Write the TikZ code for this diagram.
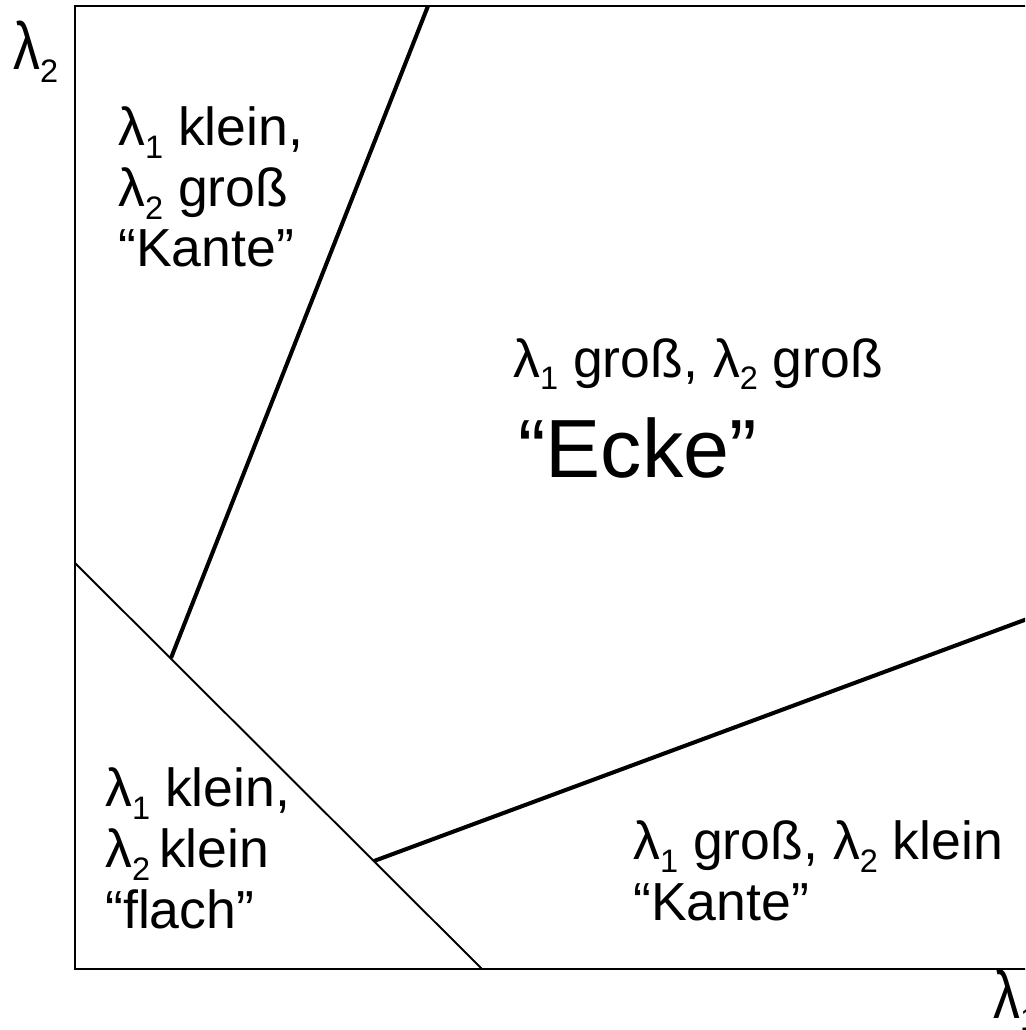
\documentclass[tikz,border=0pt]{standalone}
\usepackage{fontspec}
\setmainfont{Liberation Sans}
\newcommand\lam[1]{λ\raisebox{-0.24em}{\fontsize{18.5}{19}\selectfont #1}}
\begin{document}
\begin{tikzpicture}[x=0.02cm,y=-0.02cm,
  region/.style={anchor=base west, inner sep=0pt, align=left,
    font=\fontsize{30.5}{34.5}\selectfont},
  bigword/.style={anchor=base west, inner sep=0pt,
    font=\fontsize{47}{56}\selectfont},
  border/.style={thin line, line width=2.3pt},
  thin line/.style={line width=1.1pt}]

  \useasboundingbox (0,0) rectangle (1025,1030);
  \clip (0,0) rectangle (1025,1030);

  % frame of the eigenvalue plane
  \draw[line width=1.5pt] (1100,6) -- (75,6) -- (75,969) -- (1100,969);

  % corners of the regions
  \coordinate (flatTop) at (75,563);
  \coordinate (flatBot) at (482,969);
  \coordinate (kanteA) at (171,658);
  \coordinate (kanteAtop) at (428,6);
  \coordinate (kanteB) at (374,861);
  \coordinate (kanteBend) at (1100,592);

  % region boundaries
  \draw[thin line] (flatTop) -- (flatBot);
  \draw[border] (kanteA) -- (kanteAtop);
  \draw[border] (kanteB) -- (kanteBend);

  % axis labels
  \node[region] (ylab) at (13,70) {\scalebox{1}[1.25]{λ}\raisebox{-0.24em}{\fontsize{18.5}{19}\selectfont 2}};
  \node[region] (xlab) at (993,1018) {\scalebox{1}[1.25]{λ}\raisebox{-0.24em}{\fontsize{18.5}{19}\selectfont 1}};

  % region labels (anchored at the last line)
  \node[region] (kanteOben) at (118,267) {\lam{1} klein,\\ \lam{2} groß\\ “Kante”};
  \node[region] (eckeTxt) at (513,377) {\lam{1} groß, \lam{2} groß};
  \node[bigword] (ecke) at (518,477) {“Ecke”};
  \node[region] (flach) at (105,928) {\lam{1} klein,\\ \lam{2}\,klein\\ “flach”};
  \node[region] (kanteUnten) at (633,920) {\lam{1} groß, \lam{2} klein\\ “Kante”};

\end{tikzpicture}
\end{document}
